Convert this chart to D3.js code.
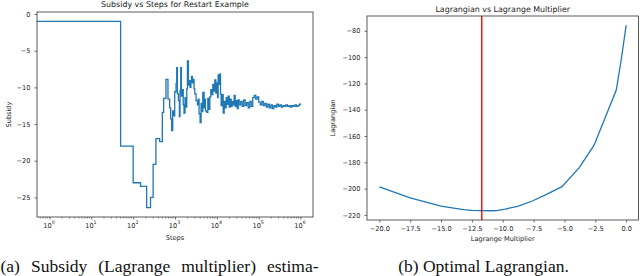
<!DOCTYPE html>
<html><head><meta charset="utf-8">
<script src="https://cdn.jsdelivr.net/npm/d3@7"></script>
<style>
body{margin:0;background:#fff}
svg{display:block}
.ax text{font-family:"DejaVu Sans",sans-serif;fill:#222}
.cap{font-family:"Liberation Serif","Times New Roman",serif;fill:#111}
</style>
</head><body>
<svg id="c" width="640" height="276"></svg>
<script>
// ---- Left chart data: Subsidy vs Steps ----
const steps = [0, 1, 50, 100, 150, 210, 260, 300, 350, 430, 498, 535, 608, 679, 746, 788, 833, 881, 931, 984,
  1057, 1099, 1142, 1206, 1275, 1318, 1371, 1423, 1504, 1573, 1643, 1737, 1836, 1909, 1983, 2096, 2191, 2290,
  2405, 2474, 2614, 2763, 2856, 2969, 3190, 3446, 3603, 3764, 3981, 4206, 4375, 4620, 4965, 5160, 5360,
  5764, 6090, 6440, 6810, 7180, 7600, 8020, 8490, 8960, 9480, 9850, 10400, 10760, 11170, 11620, 12270,
  12700, 13420, 14190, 14990, 15840, 16740, 17690, 18690, 19750, 20870, 22060, 23310, 24630, 26030, 27510,
  29070, 30720, 32460,
  34300, 37260, 40480, 43980, 47780, 51910, 56390, 61260, 66560, 72310, 78550, 85340, 92710, 100700,
  109400, 118900, 129200, 140300, 152400, 165600, 179900, 195500, 212400, 230700, 250600, 272300, 295800,
  321400, 349100, 379300, 412000, 447600, 486300, 528300, 574000, 623500, 677400, 735900, 799500, 868600,
  943600, 1000000];
const subsidy = [-1, -1, -18, -23, -23.5, -26.4, -25, -20.5, -17, -17.4, -13.4, -11.5, -8.9, -11.6, -12.8, -14.3, -15.9, -13.2, -13.9, -10.6,
  -9.5, -7.3, -10.9, -11.8, -14, -10.5, -7.3, -11.2, -10.3, -12.4, -13.5, -11.4, -12.7, -10.2, -6.4, -9.7, -9.1, -10,
  -9.3, -8.5, -9.4, -8.9, -10.2, -10.9, -11.8, -12.4, -11.6, -13.6, -14.8, -12.2, -13.3, -10.7, -12.8, -11.6, -13.2,
  -13.4, -11.5, -13, -11.3, -10.3, -11, -9.6, -10.5, -9, -10.8, -9.4, -11.4, -8.3, -9.6, -8.2, -10.9,
  -12.5, -11, -13.5, -11.9, -12.8, -11.4, -12.3, -11.2, -12.7, -11.6, -12.6, -11.9, -12.4, -11.1, -12.6,
  -11.8, -12.9, -11.7,
  -12.4, -11.9, -12.6, -11.7, -12.5, -12.1, -12.8, -11.9, -12.6, -11.4, -11.1, -11.6, -11.3, -12.0,
  -12.4, -11.9, -12.5, -12.2, -12.7, -12.3, -12.8, -12.4, -12.9, -12.5, -12.7, -12.3, -12.6,
  -12.4, -12.7, -12.5, -12.6, -12.4, -12.6, -12.5, -12.7, -12.5, -12.6, -12.4, -12.6, -12.5,
  -12.3, -12.4];
const leftXTicks = [1, 10, 100, 1000, 10000, 100000, 1000000];
const leftXExp = ["0", "1", "2", "3", "4", "5", "6"];
const leftYTicks = [0, -5, -10, -15, -20, -25];

// ---- Right chart data: Lagrangian vs Lagrange Multiplier ----
const multipliers = [-20, -17.5, -15, -13.2, -12.5, -11, -10.5, -9.8, -8.8, -7.6, -6.5, -5.2, -3.8, -2.6, -0.8, -0.4, 0];
const lagrangian = [-198.7, -207, -213.3, -216, -216.5, -216.8, -216.7, -215.5, -213.5, -209.4, -204.5, -198.5, -184, -167, -125, -102, -75.8];
const optimalMultiplier = -11.7;
const rightXTicks = [-20, -17.5, -15, -12.5, -10, -7.5, -5, -2.5, 0];
const rightYTicks = [-80, -100, -120, -140, -160, -180, -200, -220];

const BLUE = "#1f77b4";
const svg = d3.select("#c");
const fmtMinus = s => s.replace(/-/g, "\u2212");

function pad(ext, f) { const d = (ext[1] - ext[0]) * f; return [ext[0] - d, ext[1] + d]; }

// ================= LEFT =================
{
  const L = {x0: 37, x1: 313, y0: 12, y1: 217};
  const pos = steps.filter(s => s > 0);
  const le = pad([Math.log10(d3.min(pos)), Math.log10(d3.max(pos))], 0.05);
  const x = d3.scaleLog().domain([10 ** le[0], 10 ** le[1]]).range([L.x0, L.x1]).clamp(true);
  const y = d3.scaleLinear().domain(pad(d3.extent(subsidy), 0.05)).range([L.y1, L.y0]);
  const g = svg.append("g").attr("class", "ax");

  const line = d3.line().x((d, i) => x(steps[i])).y(d => y(d)).curve(d3.curveStepAfter);
  g.append("path").datum(subsidy).attr("d", line).attr("fill", "none")
    .attr("stroke", BLUE).attr("stroke-width", 1.3).attr("stroke-linejoin", "miter");

  // minor ticks
  const minor = [];
  for (let k = -1; k <= 6; k++) for (let m = 2; m <= 9; m++) {
    const v = m * 10 ** k; if (v >= x.domain()[0] && v <= x.domain()[1]) minor.push(v);
  }
  g.selectAll(".mn").data(minor).join("line")
    .attr("x1", d => x(d)).attr("x2", d => x(d)).attr("y1", L.y1).attr("y2", L.y1 + 1.5)
    .attr("stroke", "#333").attr("stroke-width", 0.6);

  const xa = g.append("g").attr("transform", `translate(0,${L.y1})`)
    .call(d3.axisBottom(x).tickValues(leftXTicks).tickSize(2.5).tickPadding(4.3).tickFormat(() => "10"));
  xa.select(".domain").remove();
  xa.selectAll("line").attr("stroke", "#333").attr("stroke-width", 0.7);
  xa.selectAll("text").attr("font-size", 6.6).attr("dx", "-0.15em")
    .each(function (d, i) {
      d3.select(this).append("tspan").attr("font-size", 4.7).attr("dy", "-0.9em").text(leftXExp[i]);
    });

  const ya = g.append("g").attr("transform", `translate(${L.x0},0)`)
    .call(d3.axisLeft(y).tickValues(leftYTicks).tickSize(2.5).tickPadding(4).tickFormat(d => fmtMinus(String(d))));
  ya.select(".domain").remove();
  ya.selectAll("line").attr("stroke", "#333").attr("stroke-width", 0.7);
  ya.selectAll("text").attr("font-size", 6.6);

  g.append("rect").attr("x", L.x0).attr("y", L.y0).attr("width", L.x1 - L.x0).attr("height", L.y1 - L.y0)
    .attr("fill", "none").attr("stroke", "#333").attr("stroke-width", 0.8);

  g.append("text").attr("x", (L.x0 + L.x1) / 2).attr("y", 7.3).attr("text-anchor", "middle")
    .attr("font-size", 7.9).text("Subsidy vs Steps for Restart Example");
  g.append("text").attr("x", (L.x0 + L.x1) / 2).attr("y", 239.8).attr("text-anchor", "middle")
    .attr("font-size", 6.6).text("Steps");
  g.append("text").attr("transform", `translate(10.5,${(L.y0 + L.y1) / 2}) rotate(-90)`)
    .attr("text-anchor", "middle").attr("font-size", 6.6).text("Subsidy");
}

// ================= RIGHT =================
{
  const R = {x0: 367, x1: 638.5, y0: 16, y1: 220};
  const x = d3.scaleLinear().domain(pad(d3.extent(multipliers), 0.05)).range([R.x0, R.x1]);
  const y = d3.scaleLinear().domain(pad(d3.extent(lagrangian), 0.05)).range([R.y1, R.y0]);
  const g = svg.append("g").attr("class", "ax");

  const line = d3.line().x((d, i) => x(multipliers[i])).y(d => y(d));
  g.append("path").datum(lagrangian).attr("d", line).attr("fill", "none")
    .attr("stroke", BLUE).attr("stroke-width", 1.3);

  g.append("line").attr("x1", x(optimalMultiplier)).attr("x2", x(optimalMultiplier))
    .attr("y1", R.y0).attr("y2", R.y1).attr("stroke", "#ff0000").attr("stroke-width", 1.4);

  const xa = g.append("g").attr("transform", `translate(0,${R.y1})`)
    .call(d3.axisBottom(x).tickValues(rightXTicks).tickSize(2.5).tickPadding(4.3).tickFormat(d => fmtMinus(d.toFixed(1))));
  xa.select(".domain").remove();
  xa.selectAll("line").attr("stroke", "#333").attr("stroke-width", 0.7);
  xa.selectAll("text").attr("font-size", 6.6);

  const ya = g.append("g").attr("transform", `translate(${R.x0},0)`)
    .call(d3.axisLeft(y).tickValues(rightYTicks).tickSize(2.5).tickPadding(4).tickFormat(d => fmtMinus(String(d))));
  ya.select(".domain").remove();
  ya.selectAll("line").attr("stroke", "#333").attr("stroke-width", 0.7);
  ya.selectAll("text").attr("font-size", 6.6);

  g.append("rect").attr("x", R.x0).attr("y", R.y0).attr("width", R.x1 - R.x0).attr("height", R.y1 - R.y0)
    .attr("fill", "none").attr("stroke", "#333").attr("stroke-width", 0.8);

  g.append("text").attr("x", (R.x0 + R.x1) / 2).attr("y", 11.5).attr("text-anchor", "middle")
    .attr("font-size", 7.9).text("Lagrangian vs Lagrange Multiplier");
  g.append("text").attr("x", (R.x0 + R.x1) / 2).attr("y", 240.5).attr("text-anchor", "middle")
    .attr("font-size", 6.6).text("Lagrange Multiplier");
  g.append("text").attr("transform", `translate(334.8,${(R.y0 + R.y1) / 2}) rotate(-90)`)
    .attr("text-anchor", "middle").attr("font-size", 6.6).text("Lagrangian");
}

// ================= CAPTIONS =================
const capA = svg.append("text").attr("class", "cap").attr("x", 0.5).attr("y", 272)
  .attr("font-size", 17.5)
  .text("(a) Subsidy (Lagrange multiplier) estima-");
{
  const w = capA.node().getComputedTextLength();
  const gaps = 4;
  capA.attr("word-spacing", Math.max(0, (318 - w) / gaps));
}
svg.append("text").attr("class", "cap").attr("x", 483.5).attr("y", 272).attr("text-anchor", "middle")
  .attr("font-size", 17.5)
  .text("(b) Optimal Lagrangian.");
</script>
</body></html>
